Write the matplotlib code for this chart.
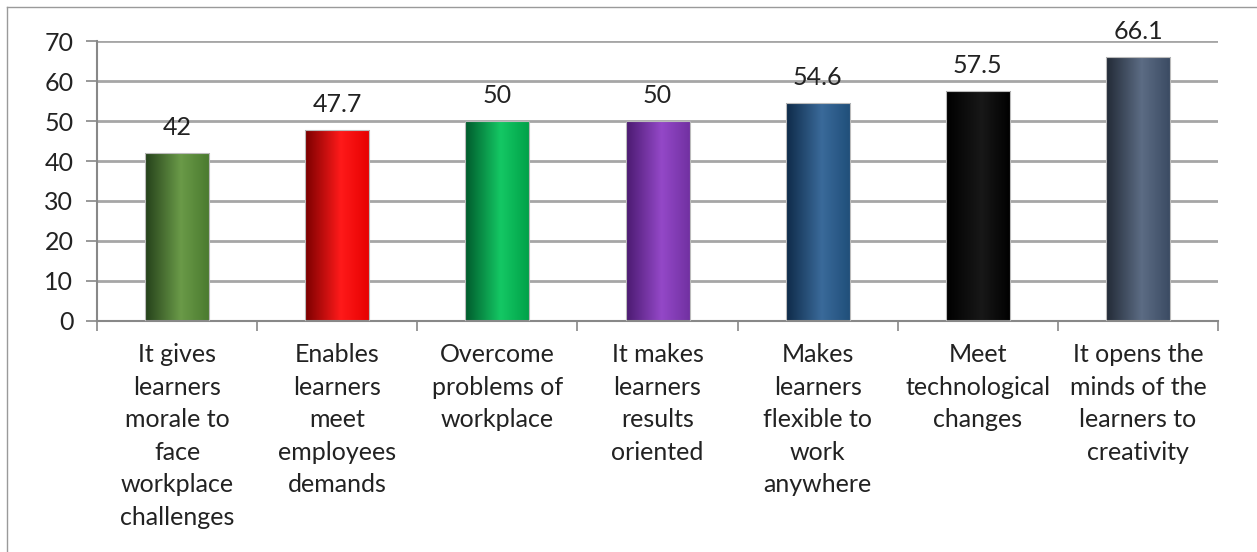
import matplotlib.pyplot as plt
import numpy as np
from matplotlib.colors import LinearSegmentedColormap
from matplotlib.lines import Line2D

plt.rcParams['font.family'] = ['Lato', 'DejaVu Sans']

categories = [
    "It gives\nlearners\nmorale to\nface\nworkplace\nchallenges",
    "Enables\nlearners\nmeet\nemployees\ndemands",
    "Overcome\nproblems of\nworkplace",
    "It makes\nlearners\nresults\noriented",
    "Makes\nlearners\nflexible to\nwork\nanywhere",
    "Meet\ntechnological\nchanges",
    "It opens the\nminds of the\nlearners to\ncreativity",
]
values = [42, 47.7, 50, 50, 54.6, 57.5, 66.1]
value_labels = ["42", "47.7", "50", "50", "54.6", "57.5", "66.1"]

# left edge, highlight, right edge of each bar's shading
shades = [
    ("#24401a", "#6a9a48", "#4a7a2e"),
    ("#7a0000", "#ff1a1a", "#e60000"),
    ("#005a2c", "#14c864", "#00a048"),
    ("#4a1a70", "#9448c8", "#7030a0"),
    ("#0e2a48", "#3a6a9a", "#1f4e79"),
    ("#000000", "#181818", "#000000"),
    ("#222a36", "#5c6c84", "#3a4a62"),
]

fig = plt.figure(figsize=(12.57, 5.52), dpi=100)
ax = fig.add_axes([0.0772, 0.4185, 0.8918, 0.5072])

x = np.arange(len(values))
width = 0.4
bars = ax.bar(x, values, width=width, color="none", edgecolor="#bbbbbb",
              linewidth=0.8, zorder=3)

grad = np.linspace(0, 1, 256).reshape(1, -1)
for bar, (c0, c1, c2) in zip(bars, shades):
    cmap = LinearSegmentedColormap.from_list("", [(0, c0), (0.55, c1), (1, c2)])
    bx, bw, bh = bar.get_x(), bar.get_width(), bar.get_height()
    im = ax.imshow(grad, cmap=cmap, aspect="auto", zorder=2,
                   extent=[bx, bx + bw, 0, bh], interpolation="bicubic")
    im.set_clip_path(bar)

for xi, v, lab in zip(x, values, value_labels):
    ax.annotate(lab, (xi, v), xytext=(0, 10), textcoords="offset points",
                ha="center", va="bottom", fontsize=18, color="#222222")

ax.set_xlim(-0.5, len(values) - 0.5)
ax.set_ylim(0, 70)
ax.set_yticks(range(0, 71, 10))
ax.yaxis.grid(True, color="#a6a6a6", linewidth=2, zorder=0)
ax.set_axisbelow(True)

ax.set_xticks(np.arange(-0.5, len(values), 1))
ax.set_xticklabels([])
ax.set_xticks(x, minor=True)
ax.set_xticklabels(categories, minor=True, fontsize=18, linespacing=1.5,
                   color="#222222")
ax.tick_params(axis="x", which="minor", length=0, pad=16)
ax.tick_params(axis="x", which="major", length=7, color="#888888", width=1.2)
ax.tick_params(axis="y", length=8, color="#888888", width=1.2,
               labelsize=18, labelcolor="#222222", pad=9)

for s in ["top", "right"]:
    ax.spines[s].set_visible(False)
for s in ["left", "bottom"]:
    ax.spines[s].set_color("#888888")
    ax.spines[s].set_linewidth(1.5)

# chart area frame (top and left edges)
fig.add_artist(Line2D([7 / 1257, 1.0], [1 - 7 / 552, 1 - 7 / 552],
                      transform=fig.transFigure, color="#9a9a9a", lw=1))
fig.add_artist(Line2D([7 / 1257, 7 / 1257], [0.0, 1 - 7 / 552],
                      transform=fig.transFigure, color="#9a9a9a", lw=1))

fig.savefig("out.png", dpi=100)
